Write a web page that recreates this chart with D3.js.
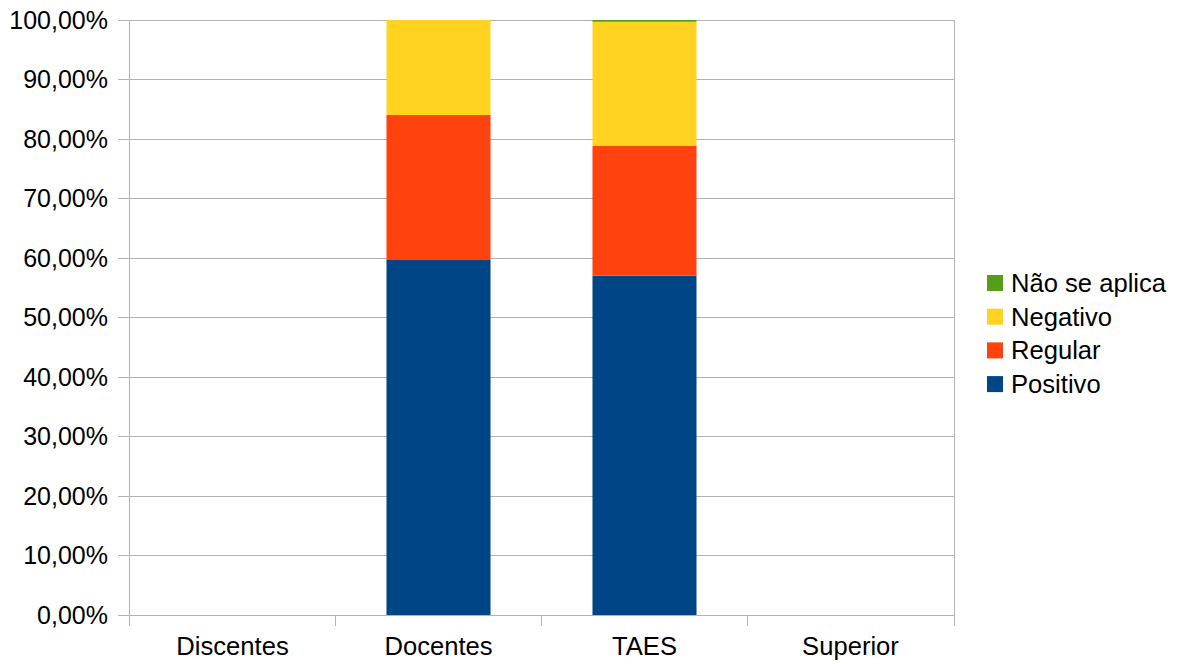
<!DOCTYPE html>
<html><head><meta charset="utf-8">
<script src="https://cdn.jsdelivr.net/npm/d3@7"></script>
<style>body{margin:0;background:#fff}svg{display:block}text{font-family:"Liberation Sans",Arial,sans-serif;fill:#000}</style>
</head><body><svg id="c" width="1184" height="664"></svg>
<script>
const categories = ["Discentes","Docentes","TAES","Superior"];
const seriesNames = ["Positivo","Regular","Negativo","Não se aplica"];
const positivo    = [0, 59.66, 57.03, 0];
const regular     = [0, 24.37, 21.84, 0];
const negativo    = [0, 15.97, 20.83, 0];
const naoSeAplica = [0, 0,     0.30,  0];
const colors = ["#004586","#ff420e","#ffd320","#579d1c"];
const yTicks = [0,10,20,30,40,50,60,70,80,90,100];

const svg = d3.select("#c");
const L=129, R=954, T=20, B=615;
const x = d3.scaleBand().domain(categories).range([L,R]).paddingInner(0.495).paddingOuter(0.25);
const y = d3.scaleLinear().domain([0,100]).range([B,T]);
const fmt = v => v.toFixed(2).replace(".", ",") + "%";
const grid = "#b3b3b3";

// gridlines
svg.append("g").selectAll("line").data(yTicks).join("line")
  .attr("x1",L-11).attr("x2",R).attr("y1",d=>y(d)).attr("y2",d=>y(d))
  .attr("stroke",grid).attr("stroke-width",1).attr("shape-rendering","crispEdges");
// axes lines
svg.append("line").attr("x1",L).attr("x2",L).attr("y1",T).attr("y2",B+11).attr("stroke",grid).attr("shape-rendering","crispEdges");
svg.append("line").attr("x1",R).attr("x2",R).attr("y1",T).attr("y2",B+11).attr("stroke",grid).attr("shape-rendering","crispEdges");
const step = (R-L)/categories.length;
const bounds = d3.range(1,categories.length).map(i => L + i*step);
svg.append("g").selectAll("line").data(bounds).join("line")
  .attr("x1",d=>d).attr("x2",d=>d).attr("y1",B).attr("y2",B+11)
  .attr("stroke",grid).attr("shape-rendering","crispEdges");

// y labels
svg.append("g").selectAll("text").data(yTicks).join("text")
  .attr("x",108).attr("y",d=>y(d)).attr("dy","0.35em").attr("text-anchor","end")
  .attr("font-size",25).text(fmt);

// x labels
svg.append("g").selectAll("text").data(categories).join("text")
  .attr("x",d=>x(d)+x.bandwidth()/2).attr("y",655).attr("text-anchor","middle")
  .attr("font-size",25.6).text(d=>d);

// stacked bars
const rows = categories.map((c,i)=>({cat:c,"Positivo":positivo[i],"Regular":regular[i],"Negativo":negativo[i],"Não se aplica":naoSeAplica[i]}));
const stack = d3.stack().keys(seriesNames)(rows);
svg.append("g").selectAll("g").data(stack).join("g").attr("fill",(d,i)=>colors[i])
  .selectAll("rect").data(d=>d.filter(p=>p[1]-p[0]>0)).join("rect")
  .attr("x",d=>x(d.data.cat)).attr("width",x.bandwidth())
  .attr("y",d=>y(d[1])).attr("height",d=>y(d[0])-y(d[1]));

// legend
const legOrder = [3,2,1,0];
const lg = svg.append("g");
legOrder.forEach((si,k)=>{
  const cy = 283 + k*33.7;
  lg.append("rect").attr("x",987).attr("y",cy-8).attr("width",16).attr("height",16).attr("fill",colors[si]);
  lg.append("text").attr("x",1011).attr("y",cy).attr("dy","0.35em").attr("font-size",25.6).text(seriesNames[si]);
});
</script></body></html>
